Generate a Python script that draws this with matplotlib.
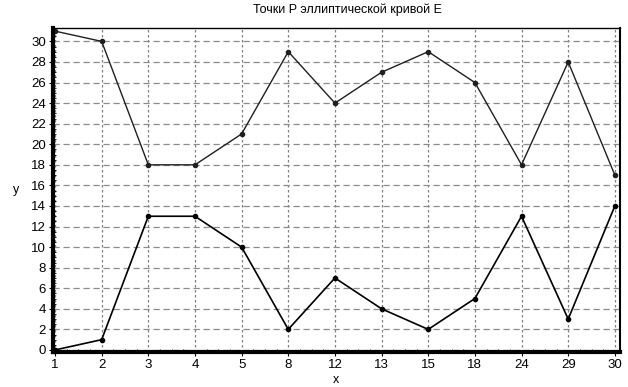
import numpy as np
import matplotlib.pyplot as plt
from matplotlib.ticker import MultipleLocator

# data
x_labels = ["1", "2", "3", "4", "5", "8", "12", "13", "15", "18", "24", "29", "30"]
y_upper = [31, 30, 18, 18, 21, 29, 24, 27, 29, 26, 18, 28, 17]
y_lower = [0, 1, 13, 13, 10, 2, 7, 4, 2, 5, 13, 3, 14]

plt.rcParams['font.family'] = ['Liberation Sans', 'DejaVu Sans']

fig = plt.figure(figsize=(6.28, 3.87), dpi=100)
ax = fig.add_axes([0.0844, 0.0904, 0.9026, 0.8372])

pos = np.arange(len(x_labels))
ax.plot(pos, y_upper, color="#202020", lw=1.0, marker="o", ms=3)
ax.plot(pos, y_lower, color="black", lw=1.2, marker="o", ms=3)

ax.set_xlim(-0.043, 12.107)
ax.set_ylim(-0.2, 31.3)
ax.set_xticks(pos)
ax.set_xticklabels(x_labels)
ax.set_yticks(np.arange(0, 31, 2))
ax.yaxis.set_minor_locator(MultipleLocator(0.5))
ax.xaxis.set_minor_locator(MultipleLocator(0.25))

# grid
for p in pos:
    ax.axvline(p, color="#808080", lw=0.9, ls=(0, (2, 2)), zorder=0)
for v in range(0, 31, 2):
    ax.axhline(v, color="#8c8c8c", lw=0.9, ls=(0, (5, 3)), zorder=0)

ax.spines["left"].set_linewidth(3)
ax.spines["bottom"].set_linewidth(3)
ax.spines["right"].set_linewidth(1.5)
ax.spines["top"].set_linewidth(1)

ax.tick_params(axis="both", which="major", length=3, direction="out", labelsize=9.5, pad=2)
ax.tick_params(axis="both", which="minor", length=2, direction="in")

ax.set_title("Точки P эллиптической кривой E", fontsize=9, pad=11, x=0.52)
ax.set_xlabel("x", fontsize=9, labelpad=2)
ax.set_ylabel("y", fontsize=9, rotation=0, labelpad=10)
ax.yaxis.set_label_coords(-0.065, 0.48)

plt.savefig("out.png", dpi=100)
